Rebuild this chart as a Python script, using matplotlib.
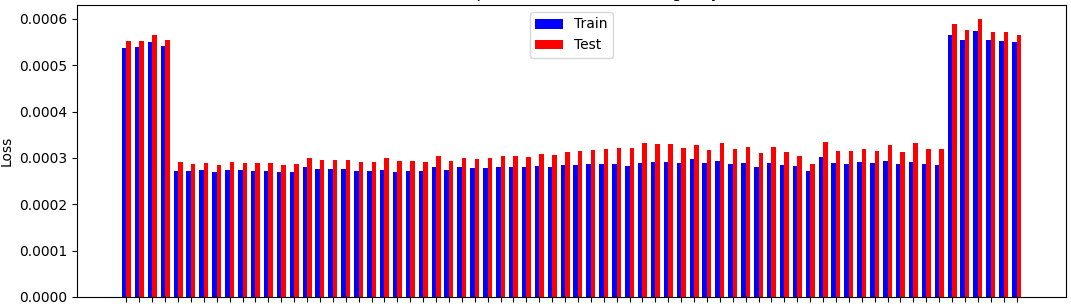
import numpy as np
import matplotlib
matplotlib.use("Agg")
import matplotlib.pyplot as plt

# one pair of bars per model index
models = list(range(70))

train_loss = [
    0.000537, 0.000540, 0.000550, 0.000542, 0.000272, 0.000272, 0.000274, 0.000270,
    0.000274, 0.000274, 0.000272, 0.000272, 0.000270, 0.000270, 0.000281, 0.000276,
    0.000276, 0.000276, 0.000272, 0.000272, 0.000274, 0.000270, 0.000272, 0.000272,
    0.000281, 0.000274, 0.000281, 0.000278, 0.000278, 0.000281, 0.000281, 0.000281,
    0.000283, 0.000281, 0.000285, 0.000285, 0.000287, 0.000287, 0.000287, 0.000283,
    0.000289, 0.000291, 0.000291, 0.000289, 0.000298, 0.000289, 0.000294, 0.000287,
    0.000289, 0.000281, 0.000289, 0.000285, 0.000283, 0.000272, 0.000302, 0.000289,
    0.000287, 0.000291, 0.000289, 0.000294, 0.000287, 0.000291, 0.000287, 0.000285,
    0.000566, 0.000555, 0.000574, 0.000555, 0.000553, 0.000550,
]

test_loss = [
    0.000553, 0.000553, 0.000566, 0.000555, 0.000291, 0.000287, 0.000289, 0.000285,
    0.000291, 0.000289, 0.000289, 0.000289, 0.000285, 0.000287, 0.000300, 0.000296,
    0.000296, 0.000296, 0.000291, 0.000291, 0.000300, 0.000294, 0.000294, 0.000291,
    0.000304, 0.000294, 0.000300, 0.000298, 0.000300, 0.000304, 0.000304, 0.000302,
    0.000309, 0.000307, 0.000313, 0.000315, 0.000317, 0.000319, 0.000322, 0.000322,
    0.000332, 0.000330, 0.000330, 0.000322, 0.000328, 0.000317, 0.000332, 0.000319,
    0.000324, 0.000311, 0.000324, 0.000313, 0.000304, 0.000287, 0.000335, 0.000315,
    0.000315, 0.000319, 0.000315, 0.000328, 0.000313, 0.000332, 0.000319, 0.000319,
    0.000589, 0.000576, 0.000600, 0.000572, 0.000572, 0.000566,
]

x = np.arange(len(models))
width = 0.35

fig = plt.figure(figsize=(10.71, 3.08), dpi=100)
ax = fig.add_axes([77 / 1071, 11 / 308, 989 / 1071, 292 / 308])

ax.bar(x - width / 2, train_loss, width, color='blue', label='Train')
ax.bar(x + width / 2, test_loss, width, color='red', label='Test')

# the title sits above the top edge, only its descenders show
ax.set_title('Mean Loss per Model Across Testing Day (All)')
ax.set_ylabel('Loss')
ax.set_xticks(x)
ax.set_xticklabels([str(m) for m in models])
ax.tick_params(axis='x', labelbottom=False)
ax.legend(loc='upper center')

fig.savefig('out.png', dpi=100)
